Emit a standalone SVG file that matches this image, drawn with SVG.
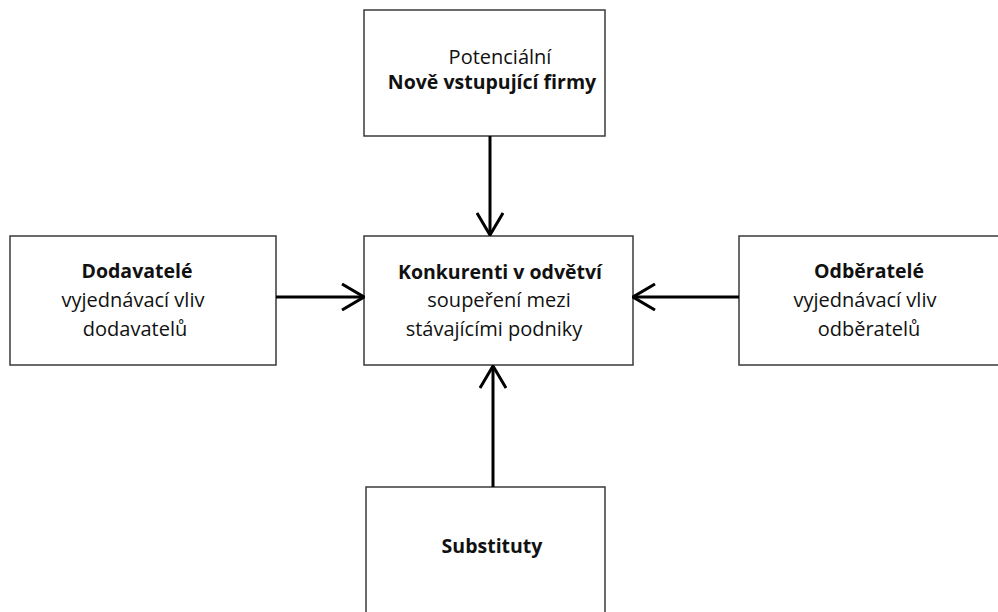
<svg xmlns="http://www.w3.org/2000/svg" width="998" height="612" viewBox="0 0 998 612">
<defs>
<marker id="arr" viewBox="0 0 24 28" refX="23" refY="14" markerWidth="24" markerHeight="28" markerUnits="userSpaceOnUse" orient="auto">
<path d="M1,1 L23,14 L1,27" fill="none" stroke="#000" stroke-width="3"/>
</marker>
<style>
.box{fill:#fff;stroke:#3a3a3a;stroke-width:1.5}
text{font-family:"Open Sans","Noto Sans","DejaVu Sans",sans-serif;font-size:20px;fill:#111;text-anchor:middle}
.b{font-weight:bold;font-size:19.5px}
.c{stroke:#000;stroke-width:3;fill:none;marker-end:url(#arr)}
</style>
</defs>
<rect width="998" height="612" fill="#fff"/>
<g id="novi">
<rect class="box" x="364" y="10" width="241" height="126"/>
<text x="500" y="64">Potenciální</text>
<text class="b" x="492" y="89">Nově vstupující firmy</text>
</g>
<g id="konkurenti">
<rect class="box" x="364" y="236" width="269" height="129"/>
<text class="b" x="500" y="279">Konkurenti v odvětví</text>
<text x="499" y="307">soupeření mezi</text>
<text x="494" y="336">stávajícími podniky</text>
</g>
<g id="dodavatele">
<rect class="box" x="10" y="236" width="266" height="129"/>
<text class="b" x="137" y="278">Dodavatelé</text>
<text x="133" y="307">vyjednávací vliv</text>
<text x="135" y="336">dodavatelů</text>
</g>
<g id="odberatele">
<rect class="box" x="739" y="236" width="270" height="129"/>
<text class="b" x="869" y="278">Odběratelé</text>
<text x="865" y="307">vyjednávací vliv</text>
<text x="869" y="336">odběratelů</text>
</g>
<g id="substituty">
<rect class="box" x="366" y="487" width="239" height="140"/>
<text class="b" x="492" y="553">Substituty</text>
</g>
<g id="connectors">
<line class="c" x1="490" y1="136" x2="490" y2="235"/>
<line class="c" x1="276" y1="297" x2="364" y2="297"/>
<line class="c" x1="739" y1="297" x2="633" y2="297"/>
<line class="c" x1="493" y1="487" x2="493" y2="366"/>
</g>
</svg>
